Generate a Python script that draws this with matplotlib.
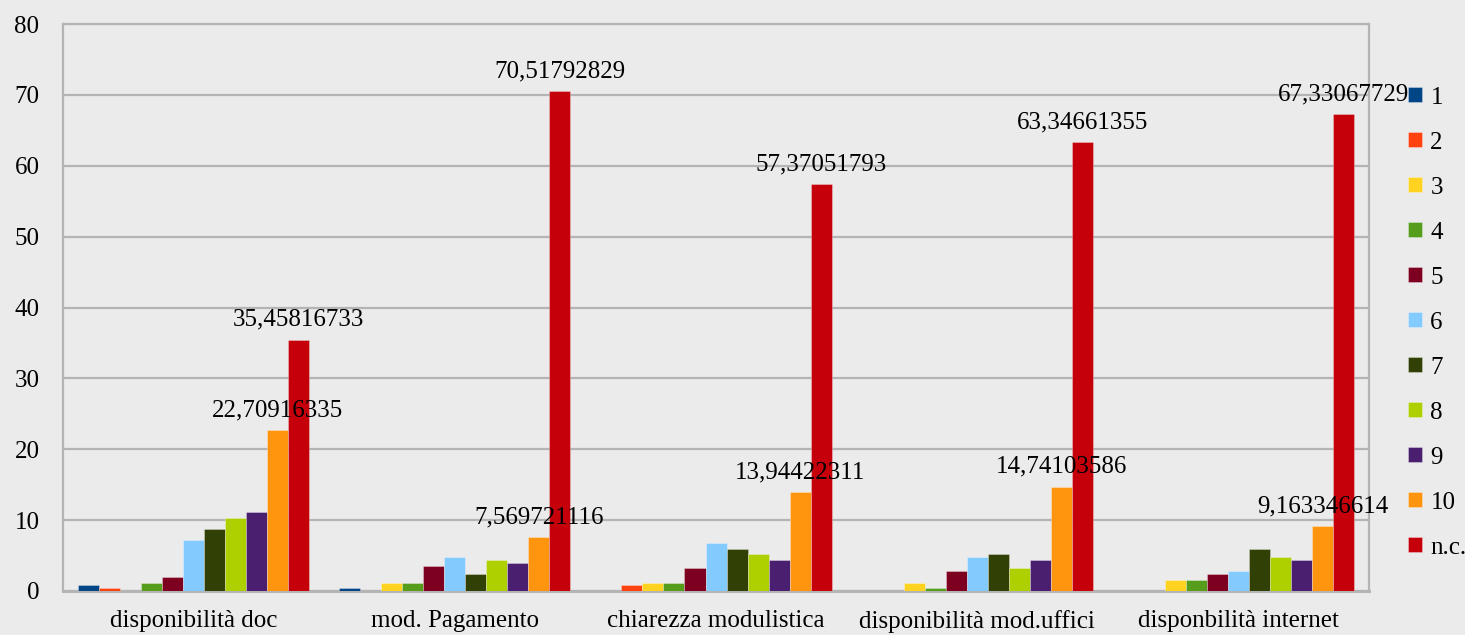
import numpy as np
import matplotlib
matplotlib.use("Agg")
import matplotlib.pyplot as plt

# categorie e serie (percentuali)
categories = ["disponibilità doc", "mod. Pagamento", "chiarezza modulistica",
              "disponibilità mod.uffici", "disponbilità internet"]
series_names = ["1", "2", "3", "4", "5", "6", "7", "8", "9", "10", "n.c."]

values = {
    "1":    [0.7968, 0.3984, 0.0, 0.0, 0.0],
    "2":    [0.3984, 0.0, 0.7968, 0.0, 0.0],
    "3":    [0.0, 1.1952, 1.1952, 1.1952, 1.5936],
    "4":    [1.1952, 1.1952, 1.1952, 0.3984, 1.5936],
    "5":    [1.9920, 3.5857, 3.1873, 2.7888, 2.3904],
    "6":    [7.1713, 4.7809, 6.7729, 4.7809, 2.7888],
    "7":    [8.7649, 2.3904, 5.9761, 5.1793, 5.9761],
    "8":    [10.3586, 4.3825, 5.1793, 3.1873, 4.7809],
    "9":    [11.1554, 3.9841, 4.3825, 4.3825, 4.3825],
    "10":   [22.70916335, 7.569721116, 13.94422311, 14.74103586, 9.163346614],
    "n.c.": [35.45816733, 70.51792829, 57.37051793, 63.34661355, 67.33067729],
}
labelled = ["10", "n.c."]

colors = ["#004586", "#ff420e", "#ffd320", "#579d1c", "#7e0021", "#83caff",
          "#314004", "#aecf00", "#4b1f6f", "#ff950e", "#c5000b"]

plt.rcParams["font.family"] = ["Liberation Serif", "DejaVu Serif"]
bg = "#ebebeb"
grid_c = "#b4b4b4"
fs = 18

fig = plt.figure(figsize=(14.65, 6.35), dpi=100, facecolor=bg)
ax = fig.add_axes([0.043, 0.0693, 0.8915, 0.8927], facecolor=bg)

x = np.arange(len(categories))
n = len(series_names)
w = 0.0805
for i, (name, c) in enumerate(zip(series_names, colors)):
    pos = x + (i - (n - 1) / 2) * w
    bars = ax.bar(pos, values[name], width=w, color=c, label=name,
                  edgecolor=(1, 1, 1, 0.35), linewidth=0.6, zorder=3)
    if name in labelled:
        for b, v in zip(bars, values[name]):
            ax.annotate(f"{v:.10g}".replace(".", ","),
                        (b.get_x() + b.get_width() / 2, v),
                        xytext=(0, 10), textcoords="offset points",
                        ha="center", va="baseline", fontsize=fs, zorder=5)

ax.set_xlim(-0.5, len(categories) - 0.5)
ax.set_ylim(0, 80)
ax.set_yticks(np.arange(0, 81, 10))
ax.set_xticks(x)
ax.set_xticklabels(categories, fontsize=fs)
ax.tick_params(axis="y", length=0, pad=17, labelsize=fs)
ax.tick_params(axis="x", length=0, pad=14)
ax.yaxis.grid(True, color=grid_c, linewidth=1.6, zorder=0)
ax.set_axisbelow(True)
for s in ax.spines.values():
    s.set_color(grid_c)
    s.set_linewidth(1.6)
ax.spines["bottom"].set_linewidth(2.2)

leg = fig.legend(loc="center left", bbox_to_anchor=(0.961, 0.492),
                 frameon=False, fontsize=fs, handlelength=0.55,
                 handleheight=0.55, handletextpad=0.35, labelspacing=0.92,
                 borderpad=0, borderaxespad=0)

fig.savefig("out.png", dpi=100, facecolor=bg)
